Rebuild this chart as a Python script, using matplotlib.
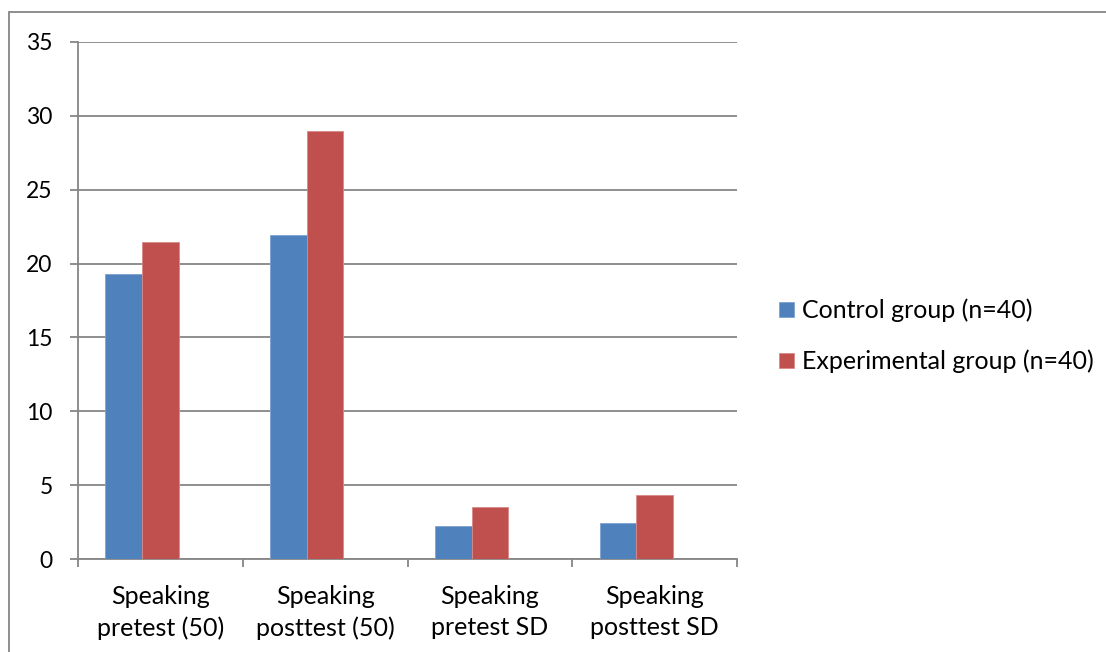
import matplotlib
matplotlib.use("Agg")
import matplotlib.pyplot as plt
from matplotlib.patches import Rectangle
import numpy as np

plt.rcParams['font.family'] = ['Lato', 'DejaVu Sans']

categories = ["Speaking\npretest (50)", "Speaking\nposttest (50)",
              "Speaking\npretest SD", "Speaking\nposttest SD"]
control = [19.3, 21.95, 2.25, 2.45]
experimental = [21.45, 28.97, 3.5, 4.3]
series_names = ["Control group (n=40)", "Experimental group (n=40)"]
y_ticks = [0, 5, 10, 15, 20, 25, 30, 35]

W, H = 1106, 652
fig = plt.figure(figsize=(W / 100, H / 100), dpi=100)
ax = fig.add_axes([78 / W, 1 - 559 / H, (737 - 78) / W, (559 - 42) / H])

grey = "#868686"
blue = "#4F81BD"
red = "#C0504D"

# each category has room for three bar slots (gap width 150%);
# the two series fill the first two slots
x = np.arange(len(categories))
bw = 1 / 4.5
ax.bar(x - bw, control, bw, color=blue, edgecolor="#7EA2D0",
       linewidth=0.6, label=series_names[0], zorder=3)
ax.bar(x, experimental, bw, color=red, edgecolor="#D98A88",
       linewidth=0.6, label=series_names[1], zorder=3)

ax.set_xlim(-0.5, len(categories) - 0.5)
ax.set_ylim(0, 35)
ax.set_yticks(y_ticks)
ax.set_yticklabels([str(v) for v in y_ticks])
ax.yaxis.grid(True, color=grey, linewidth=1.3, zorder=0)
ax.set_axisbelow(True)

# category boundaries carry the tick marks, centres carry the labels
ax.set_xticks(np.arange(len(categories) + 1) - 0.5)
ax.set_xticklabels([])
ax.set_xticks(x, minor=True)
ax.set_xticklabels(categories, minor=True, fontsize=18, linespacing=1.45)
ax.tick_params(axis="x", which="major", direction="out", length=5.8, width=1.3,
               color=grey)
ax.tick_params(axis="x", which="minor", length=0, pad=18.5)
ax.tick_params(axis="y", direction="out", length=5.8, width=1.3, color=grey,
               labelsize=16.5, pad=12.5)

for s in ("top", "right"):
    ax.spines[s].set_visible(False)
for s in ("left", "bottom"):
    ax.spines[s].set_color(grey)
    ax.spines[s].set_linewidth(1.3)

leg = fig.legend(loc="center left", bbox_to_anchor=(779 / W, 1 - 336 / H),
                 frameon=False, fontsize=18, handlelength=0.6, handleheight=0.6,
                 handletextpad=0.3, labelspacing=1.1, borderaxespad=0,
                 borderpad=0)

fig.patches.append(Rectangle((9 / W, -0.1), 1.2, (1 - 12 / H) + 0.1,
                             transform=fig.transFigure, fill=False,
                             edgecolor=grey, linewidth=1.3))

fig.savefig("out.png", dpi=100)
